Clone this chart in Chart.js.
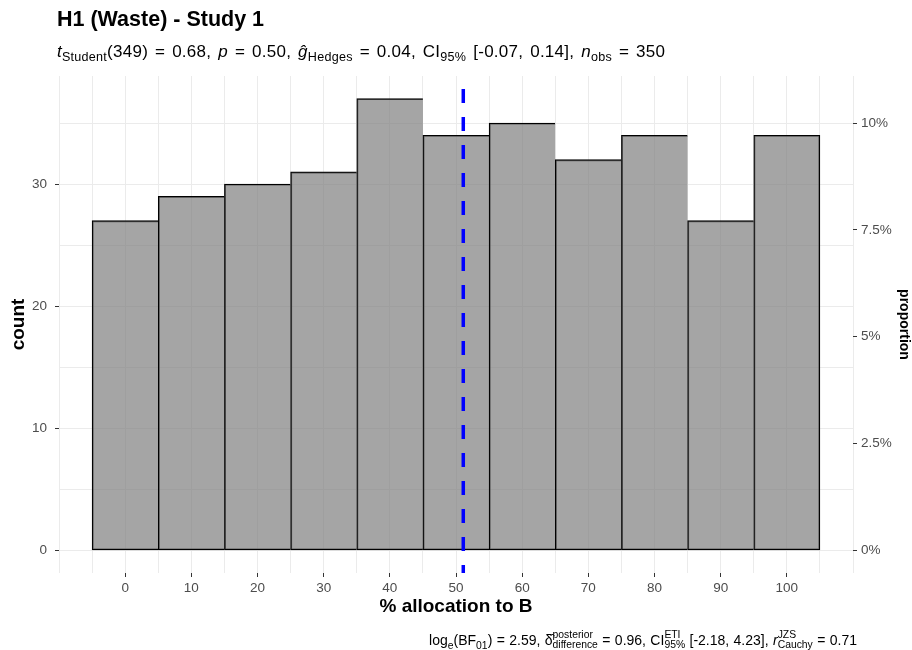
<!DOCTYPE html>
<html>
<head>
<meta charset="utf-8">
<script src="https://cdn.jsdelivr.net/npm/chart.js@4"></script>
<style>
  body { margin: 0; background: #fff; }
  #wrap { position: relative; width: 912px; height: 650px; font-family: "Liberation Sans", Arial, sans-serif; color: #000; }
  #chart { position: absolute; left: 0; top: 0; }
  .txt { position: absolute; white-space: nowrap; line-height: 1; }
  .txt sub, .txt sup { line-height: 0; font-size: 0.74em; }
  .txt sub { vertical-align: -0.35em; }
  #title { left: 57px; top: 8.5px; font-size: 21.5px; font-weight: bold; }
  #subtitle { left: 57px; top: 42.5px; font-size: 17px; word-spacing: 2px; letter-spacing: 0.25px; }
  #caption { right: 55px; top: 632px; font-size: 14px; word-spacing: 0.5px; }
  .ss { display: inline-flex; flex-direction: column; vertical-align: middle; font-size: 0.74em; line-height: 1; margin-top: -2px; }
</style>
</head>
<body>
<div id="wrap">
  <canvas id="chart" width="912" height="650"></canvas>
  <div class="txt" id="title">H1 (Waste) - Study 1</div>
  <div class="txt" id="subtitle"><i>t</i><sub>Student</sub>(349) = 0.68, <i>p</i> = 0.50, <i>ĝ</i><sub>Hedges</sub> = 0.04, CI<sub>95%</sub> [-0.07, 0.14], <i>n</i><sub>obs</sub> = 350</div>
  <div class="txt" id="caption">log<sub>e</sub>(BF<sub>01</sub>) = 2.59, δ̂<span class="ss"><span>posterior</span><span>difference</span></span> = 0.96, CI<span class="ss"><span>ETI</span><span>95%</span></span> [-2.18, 4.23], <i>r</i><span class="ss"><span>JZS</span><span>Cauchy</span></span> = 0.71</div>
</div>
<script>
// histogram bins (centres) and counts
const binCenters = [0, 10, 20, 30, 40, 50, 60, 70, 80, 90, 100];
const counts = [27, 29, 30, 31, 37, 34, 35, 32, 34, 27, 34];
const nObs = 350;
const meanX = 51.1; // dashed line

const xTicks = [0, 10, 20, 30, 40, 50, 60, 70, 80, 90, 100];
const xMinor = [-10, -5, 5, 15, 25, 35, 45, 55, 65, 75, 85, 95, 105, 110];
const yTicks = [0, 10, 20, 30];
const yMinor = [5, 15, 25, 35];
const propTicks = [0, 0.025, 0.05, 0.075, 0.1];
const propLabels = ["0%", "2.5%", "5%", "7.5%", "10%"];

const xMin = -10, xMax = 110;
const yMin = -1.85, yMax = 38.85;

Chart.defaults.font.family = '"Liberation Sans", Arial, sans-serif';

const gridCol = "#EBEBEB";
const tickTxt = "#4D4D4D";
const lastBar = counts.length - 1;

new Chart(document.getElementById("chart"), {
  type: "bar",
  data: {
    datasets: [
      {
        type: "line",
        data: [{ x: meanX, y: yMax }, { x: meanX, y: yMin }],
        borderColor: "#0000FF",
        borderWidth: 3.5,
        borderDash: [14, 14],
        borderDashOffset: 15,
        pointRadius: 0,
        fill: false,
        order: 0,
        xAxisID: "x",
        yAxisID: "y",
      },
      {
        data: binCenters.map((x, i) => ({ x: x, y: counts[i] })),
        backgroundColor: "rgba(127,127,127,0.7)",
        borderColor: "#000",
        borderSkipped: false,
        borderWidth: (ctx) => ({
          top: 1.2,
          bottom: 1.2,
          left: 1.2,
          right: ctx.dataIndex === lastBar ? 1.2 : 0,
        }),
        barPercentage: 1,
        categoryPercentage: 1,
        order: 1,
        xAxisID: "x",
        yAxisID: "y",
      },
    ],
  },
  options: {
    responsive: false,
    animation: false,
    events: [],
    layout: { padding: { left: 0, right: 0, top: 76, bottom: 30 } },
    plugins: { legend: { display: false }, tooltip: { enabled: false } },
    scales: {
      x: {
        type: "linear",
        position: "bottom",
        offset: false,
        min: xMin,
        max: xMax,
        afterBuildTicks: (s) => { s.ticks = xTicks.map((v) => ({ value: v })); },
        afterFit: (s) => { s.height = 47; },
        ticks: { color: tickTxt, font: { size: 13.5 }, padding: 3, maxRotation: 0, autoSkip: false },
        grid: { offset: false, color: gridCol, lineWidth: 1, tickColor: "#333", tickLength: 4, tickWidth: 1 },
        border: { display: false },
        title: {
          display: true,
          text: "% allocation to B",
          color: "#000",
          font: { size: 19, weight: "bold" },
          padding: { top: 0, bottom: 2 },
        },
      },
      x2: {
        type: "linear",
        position: "bottom",
        offset: false,
        min: xMin,
        max: xMax,
        afterBuildTicks: (s) => { s.ticks = xMinor.map((v) => ({ value: v })); },
        ticks: { display: false },
        grid: { offset: false, color: gridCol, lineWidth: 1, drawTicks: false },
        border: { display: false },
      },
      y: {
        type: "linear",
        position: "left",
        min: yMin,
        max: yMax,
        afterBuildTicks: (s) => { s.ticks = yTicks.map((v) => ({ value: v })); },
        afterFit: (s) => { s.width = 59; },
        ticks: { color: tickTxt, font: { size: 13.5 }, padding: 8 },
        grid: { color: gridCol, lineWidth: 1, tickColor: "#333", tickLength: 4, tickWidth: 1 },
        border: { display: false },
        title: {
          display: true,
          text: "count",
          color: "#000",
          font: { size: 19, weight: "bold" },
          padding: { top: 7, bottom: 0 },
        },
      },
      y3: {
        type: "linear",
        position: "left",
        min: yMin,
        max: yMax,
        afterBuildTicks: (s) => { s.ticks = yMinor.map((v) => ({ value: v })); },
        ticks: { display: false },
        grid: { color: gridCol, lineWidth: 1, drawTicks: false },
        border: { display: false },
      },
      y2: {
        type: "linear",
        position: "right",
        min: yMin / nObs,
        max: yMax / nObs,
        afterBuildTicks: (s) => { s.ticks = propTicks.map((v) => ({ value: v })); },
        afterFit: (s) => { s.width = 59; },
        ticks: {
          color: tickTxt,
          font: { size: 13.5 },
          padding: 4,
          callback: (v, i) => propLabels[i],
        },
        grid: { drawOnChartArea: false, tickColor: "#333", tickLength: 4, tickWidth: 1 },
        border: { display: false },
        title: {
          display: true,
          text: "proportion",
          color: "#000",
          font: { size: 14, weight: "bold" },
          padding: { top: 0, bottom: 0 },
        },
      },
    },
  },
});
</script>
</body>
</html>
